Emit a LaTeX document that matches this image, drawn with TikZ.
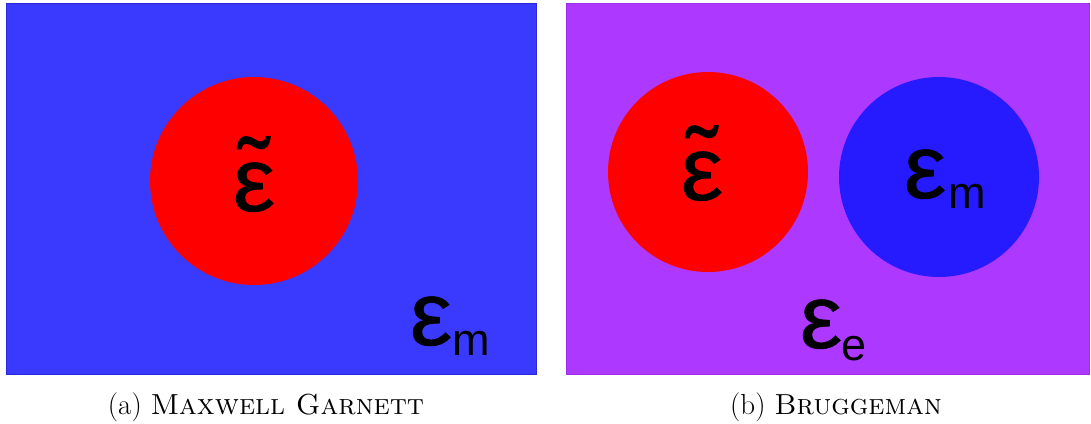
\documentclass[tikz,border=0pt]{standalone}
\usepackage{fontspec}
\usepackage{graphicx}
\newfontfamily\epsfont[FakeBold=0.8]{Liberation Sans}
\newfontfamily\subfont{Liberation Sans}
\definecolor{bgblue}{RGB}{58,58,255}
\definecolor{bgblueedge}{RGB}{40,40,225}
\definecolor{bgpurple}{RGB}{173,56,255}
\definecolor{bgpurpleedge}{RGB}{158,45,235}
\definecolor{incred}{RGB}{255,0,0}
\definecolor{incblue}{RGB}{38,26,255}
\tikzset{
  panel/.style={rectangle, inner sep=0pt, anchor=north west, line width=1pt},
  inclusion/.style={circle, inner sep=0pt, minimum size=#1},
  bigsym/.style={inner sep=0pt, anchor=base, font=\epsfont\fontsize{90}{90}\selectfont},
  subsym/.style={inner sep=0pt, anchor=base, font=\subfont\fontsize{45}{45}\selectfont},
  captext/.style={inner sep=0pt, anchor=base, font=\fontsize{29}{35}\selectfont}
}
\newcommand\Eps[2]{\scalebox{#1}[#2]{ε}}
\newcommand\EpsTilde{\ooalign{\hfil{\fontsize{95}{95}\selectfont\raisebox{\dimexpr74.5pt-\height\relax}{˜}}\hfil\cr\Eps{1.05}{1.0}\cr}}
\begin{document}
\begin{tikzpicture}[x=1pt,y=-1pt]
\useasboundingbox (0,0) rectangle (1091,423);
\fill[white] (0,0) rectangle (1091,423);
% panel (a)
\node[panel, draw=bgblueedge, fill=bgblue, minimum width=530pt, minimum height=371pt] (pa) at (6,3) {};
\node[inclusion=208pt, fill=incred] (ca) at (254,181) {};
\node[bigsym] (ea) at (254,211) {\EpsTilde};
\node[bigsym] (ema) at (431,345) {\Eps{1.05}{1.0}};
\node[subsym] (ma) at (471,355) {m};
\node[captext] (capa) at (266,414) {(a) \textsc{Maxwell Garnett}};
% panel (b)
\node[panel, draw=bgpurpleedge, fill=bgpurple, minimum width=523pt, minimum height=371pt] (pb) at (566,3) {};
\node[inclusion=200pt, fill=incred] (cb) at (708,172) {};
\node[inclusion=200pt, fill=incblue] (cm) at (939,177) {};
\node[bigsym] (eb) at (702,200) {\EpsTilde};
\node[bigsym] (emb) at (925,198) {\Eps{1.05}{1.0}};
\node[subsym] (mb) at (967.5,208) {m};
\node[bigsym] (eeb) at (821,348) {\Eps{1.05}{1.0}};
\node[subsym] (sub) at (854,360) {e};
\node[captext] (capb) at (836,414) {(b) \textsc{Bruggeman}};
\end{tikzpicture}
\end{document}
